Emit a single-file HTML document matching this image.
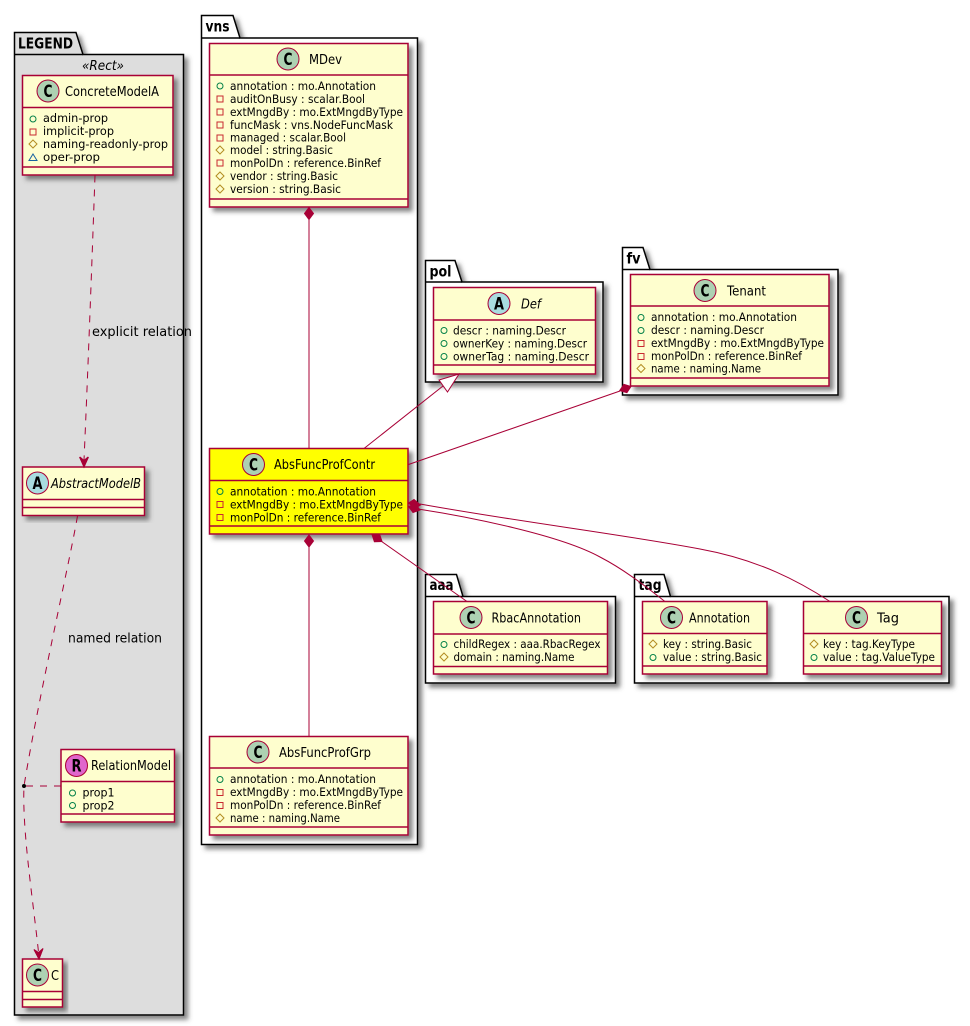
<!DOCTYPE html>
<html>
<head>
<meta charset="utf-8">
<title>Class diagram</title>
<style>
html,body{margin:0;padding:0;background:#fff;}
svg{display:block;}
text{font-family:"DejaVu Sans","Liberation Sans",sans-serif;fill:#000;}
.pk{stroke:#000;stroke-width:1.5;fill:#fff;}
.pt{font-weight:bold;font-size:15px;}
.c{fill:#FEFECE;stroke:#A80036;stroke-width:1.5;}
.s{stroke:#A80036;stroke-width:1.5;fill:none;}
.n{font-size:13.5px;}
.i{font-style:italic;}
.a{font-size:11.5px;}
.l{stroke:#A80036;stroke-width:1;fill:none;}
.d{stroke-dasharray:7,7;}
.b{fill:#A80036;stroke:#A80036;stroke-width:1;}
.cc{fill:#ADD1B2;stroke:#A80036;stroke-width:1;}
.ca{fill:#A9DCDF;stroke:#A80036;stroke-width:1;}
.cr{fill:#E066CC;stroke:#A80036;stroke-width:1;}
.g{font-weight:bold;font-size:16.5px;text-anchor:middle;}
.rl{font-size:13px;}
</style>
</head>
<body>
<svg xmlns="http://www.w3.org/2000/svg" width="970" height="1026" viewBox="0 0 970 1026">
<defs>
<filter id="sh" x="-10%" y="-10%" width="125%" height="125%">
<feDropShadow dx="4" dy="4" stdDeviation="2.5" flood-color="#444" flood-opacity="0.65"/>
</filter>
<circle id="pub" r="3" fill="none" stroke="#038048" stroke-width="1"/>
<rect id="pri" x="-3" y="-3" width="6" height="6" fill="none" stroke="#C82930" stroke-width="1"/>
<polygon id="pro" points="0,-4 4,0 0,4 -4,0" fill="none" stroke="#B38D22" stroke-width="1"/>
<polygon id="tri" points="0,-3.5 4,3 -4,3" fill="none" stroke="#1963A0" stroke-width="1"/>
</defs>

<!-- packages -->
<path class="pk" filter="url(#sh)" style="fill:#DDDDDD" d="M14.5,32.5H76L83,54.5H183.5V1015H14.5Z"/>
<path d="M14.5,54.5H83" stroke="#000" stroke-width="1.5"/>
<text class="pt" x="18" y="48.5" textLength="55" lengthAdjust="spacingAndGlyphs">LEGEND</text>
<text x="82" y="70" font-size="13" font-style="italic" textLength="42" lengthAdjust="spacingAndGlyphs">«Rect»</text>

<path class="pk" filter="url(#sh)" d="M201.5,15.5H233L240,38H417.5V844.5H201.5Z"/>
<path d="M201.5,38H240" stroke="#000" stroke-width="1.5"/>
<text class="pt" x="205.5" y="31.5" textLength="24" lengthAdjust="spacingAndGlyphs">vns</text>

<path class="pk" filter="url(#sh)" d="M425.5,260.5H455L462,282H603V382H425.5Z"/>
<path d="M425.5,282H462" stroke="#000" stroke-width="1.5"/>
<text class="pt" x="429.5" y="276.5" textLength="22" lengthAdjust="spacingAndGlyphs">pol</text>

<path class="pk" filter="url(#sh)" d="M622.5,247.5H643L650,269.5H838V395H622.5Z"/>
<path d="M622.5,269.5H650" stroke="#000" stroke-width="1.5"/>
<text class="pt" x="626.5" y="263.5" textLength="14" lengthAdjust="spacingAndGlyphs">fv</text>

<path class="pk" filter="url(#sh)" d="M425.5,574.5H456.5L463,596.5H615.5V683H425.5Z"/>
<path d="M425.5,596.5H463" stroke="#000" stroke-width="1.5"/>
<text class="pt" x="429.5" y="590" textLength="24" lengthAdjust="spacingAndGlyphs">aaa</text>

<path class="pk" filter="url(#sh)" d="M634.5,574.5H664L670.5,596.5H949V683H634.5Z"/>
<path d="M634.5,596.5H670.5" stroke="#000" stroke-width="1.5"/>
<text class="pt" x="638.5" y="590" textLength="23" lengthAdjust="spacingAndGlyphs">tag</text>

<!-- ConcreteModelA -->
<rect class="c" filter="url(#sh)" x="22.5" y="75.5" width="150.5" height="99.5"/>
<path class="s" d="M22.5,107.5H173M22.5,167H173"/>
<circle class="cc" cx="48" cy="91" r="11"/><text class="g" x="48" y="97" textLength="9" lengthAdjust="spacingAndGlyphs">C</text>
<text class="n" x="65" y="96" textLength="94" lengthAdjust="spacingAndGlyphs">ConcreteModelA</text>
<use href="#pub" x="33" y="119"/><text class="a" x="43" y="122" textLength="65" lengthAdjust="spacingAndGlyphs">admin-prop</text>
<use href="#pri" x="33" y="132"/><text class="a" x="43" y="135" textLength="71" lengthAdjust="spacingAndGlyphs">implicit-prop</text>
<use href="#pro" x="33" y="144"/><text class="a" x="43" y="148" textLength="125" lengthAdjust="spacingAndGlyphs">naming-readonly-prop</text>
<use href="#tri" x="33" y="157.5"/><text class="a" x="43" y="161" textLength="57" lengthAdjust="spacingAndGlyphs">oper-prop</text>

<!-- AbstractModelB -->
<rect class="c" filter="url(#sh)" x="22.5" y="467" width="122" height="48.5"/>
<path class="s" d="M22.5,499.5H144.5M22.5,507.5H144.5"/>
<circle class="ca" cx="37.5" cy="483" r="11"/><text class="g" x="37.5" y="489" textLength="10" lengthAdjust="spacingAndGlyphs">A</text>
<text class="n i" x="51" y="488" textLength="90" lengthAdjust="spacingAndGlyphs">AbstractModelB</text>

<!-- RelationModel -->
<rect class="c" filter="url(#sh)" x="61" y="749.5" width="113.5" height="72.5"/>
<path class="s" d="M61,781.5H174.5M61,814H174.5"/>
<circle class="cr" cx="76.5" cy="765.5" r="11"/><text class="g" x="76.5" y="771.5" textLength="10" lengthAdjust="spacingAndGlyphs">R</text>
<text class="n" x="91" y="770" textLength="80" lengthAdjust="spacingAndGlyphs">RelationModel</text>
<use href="#pub" x="72.5" y="793"/><text class="a" x="82.5" y="796.5" textLength="32" lengthAdjust="spacingAndGlyphs">prop1</text>
<use href="#pub" x="72.5" y="805.5"/><text class="a" x="82.5" y="809.5" textLength="32" lengthAdjust="spacingAndGlyphs">prop2</text>

<!-- C -->
<rect class="c" filter="url(#sh)" x="22.5" y="959" width="40" height="48"/>
<path class="s" d="M22.5,991.5H62.5M22.5,999.5H62.5"/>
<circle class="cc" cx="37.5" cy="975" r="11"/><text class="g" x="37.5" y="981" textLength="9" lengthAdjust="spacingAndGlyphs">C</text>
<text class="n" x="51" y="980" textLength="8" lengthAdjust="spacingAndGlyphs">C</text>

<!-- MDev -->
<rect class="c" filter="url(#sh)" x="209.5" y="43.5" width="198.5" height="163.5"/>
<path class="s" d="M209.5,75H408M209.5,199H408"/>
<circle class="cc" cx="288" cy="59" r="11"/><text class="g" x="288" y="65" textLength="9" lengthAdjust="spacingAndGlyphs">C</text>
<text class="n" x="309" y="64" textLength="33" lengthAdjust="spacingAndGlyphs">MDev</text>
<use href="#pub" x="220" y="86"/><text class="a" x="230" y="90" textLength="146" lengthAdjust="spacingAndGlyphs">annotation : mo.Annotation</text>
<use href="#pri" x="220" y="99"/><text class="a" x="230" y="103" textLength="135" lengthAdjust="spacingAndGlyphs">auditOnBusy : scalar.Bool</text>
<use href="#pri" x="220" y="112"/><text class="a" x="230" y="116" textLength="173" lengthAdjust="spacingAndGlyphs">extMngdBy : mo.ExtMngdByType</text>
<use href="#pri" x="220" y="125"/><text class="a" x="230" y="129" textLength="163" lengthAdjust="spacingAndGlyphs">funcMask : vns.NodeFuncMask</text>
<use href="#pri" x="220" y="138"/><text class="a" x="230" y="141.5" textLength="116" lengthAdjust="spacingAndGlyphs">managed : scalar.Bool</text>
<use href="#pro" x="220" y="150"/><text class="a" x="230" y="154" textLength="103" lengthAdjust="spacingAndGlyphs">model : string.Basic</text>
<use href="#pri" x="220" y="163"/><text class="a" x="230" y="167" textLength="151" lengthAdjust="spacingAndGlyphs">monPolDn : reference.BinRef</text>
<use href="#pro" x="220" y="176"/><text class="a" x="230" y="180" textLength="108" lengthAdjust="spacingAndGlyphs">vendor : string.Basic</text>
<use href="#pro" x="220" y="189"/><text class="a" x="230" y="193" textLength="111" lengthAdjust="spacingAndGlyphs">version : string.Basic</text>

<!-- AbsFuncProfContr -->
<rect filter="url(#sh)" x="209.5" y="448.5" width="198.5" height="85.5" fill="#FFFF00" stroke="#A80036" stroke-width="1.5"/>
<path class="s" d="M209.5,480.5H408M209.5,526H408"/>
<circle class="cc" cx="253.5" cy="464.5" r="11"/><text class="g" x="253.5" y="470.5" textLength="9" lengthAdjust="spacingAndGlyphs">C</text>
<text class="n" x="274" y="469" textLength="101" lengthAdjust="spacingAndGlyphs">AbsFuncProfContr</text>
<use href="#pub" x="220" y="491.5"/><text class="a" x="230" y="495.5" textLength="146" lengthAdjust="spacingAndGlyphs">annotation : mo.Annotation</text>
<use href="#pri" x="220" y="504.5"/><text class="a" x="230" y="508.5" textLength="173" lengthAdjust="spacingAndGlyphs">extMngdBy : mo.ExtMngdByType</text>
<use href="#pri" x="220" y="517.5"/><text class="a" x="230" y="521.5" textLength="151" lengthAdjust="spacingAndGlyphs">monPolDn : reference.BinRef</text>

<!-- AbsFuncProfGrp -->
<rect class="c" filter="url(#sh)" x="209.5" y="736.5" width="198.5" height="98.5"/>
<path class="s" d="M209.5,768H408M209.5,827H408"/>
<circle class="cc" cx="258" cy="752" r="11"/><text class="g" x="258" y="758" textLength="9" lengthAdjust="spacingAndGlyphs">C</text>
<text class="n" x="279" y="757" textLength="92" lengthAdjust="spacingAndGlyphs">AbsFuncProfGrp</text>
<use href="#pub" x="220" y="779.5"/><text class="a" x="230" y="783" textLength="146" lengthAdjust="spacingAndGlyphs">annotation : mo.Annotation</text>
<use href="#pri" x="220" y="792.5"/><text class="a" x="230" y="796" textLength="173" lengthAdjust="spacingAndGlyphs">extMngdBy : mo.ExtMngdByType</text>
<use href="#pri" x="220" y="805.5"/><text class="a" x="230" y="809" textLength="151" lengthAdjust="spacingAndGlyphs">monPolDn : reference.BinRef</text>
<use href="#pro" x="220" y="818"/><text class="a" x="230" y="822" textLength="110" lengthAdjust="spacingAndGlyphs">name : naming.Name</text>

<!-- Def -->
<rect class="c" filter="url(#sh)" x="433.5" y="287.5" width="162" height="86.5"/>
<path class="s" d="M433.5,320H595.5M433.5,365H595.5"/>
<circle class="ca" cx="499" cy="303.5" r="11"/><text class="g" x="499" y="309.5" textLength="10" lengthAdjust="spacingAndGlyphs">A</text>
<text class="n i" x="521" y="308.5" textLength="20" lengthAdjust="spacingAndGlyphs">Def</text>
<use href="#pub" x="444" y="330.5"/><text class="a" x="453" y="334.5" textLength="113" lengthAdjust="spacingAndGlyphs">descr : naming.Descr</text>
<use href="#pub" x="444" y="343.5"/><text class="a" x="453" y="347.5" textLength="134" lengthAdjust="spacingAndGlyphs">ownerKey : naming.Descr</text>
<use href="#pub" x="444" y="356.5"/><text class="a" x="453" y="360.5" textLength="136" lengthAdjust="spacingAndGlyphs">ownerTag : naming.Descr</text>

<!-- Tenant -->
<rect class="c" filter="url(#sh)" x="630.5" y="274.5" width="198.5" height="111.5"/>
<path class="s" d="M630.5,306H829M630.5,378H829"/>
<circle class="cc" cx="705" cy="290.5" r="11"/><text class="g" x="705" y="296.5" textLength="9" lengthAdjust="spacingAndGlyphs">C</text>
<text class="n" x="727" y="295.5" textLength="39" lengthAdjust="spacingAndGlyphs">Tenant</text>
<use href="#pub" x="641" y="317.5"/><text class="a" x="651" y="321" textLength="146" lengthAdjust="spacingAndGlyphs">annotation : mo.Annotation</text>
<use href="#pub" x="641" y="330.5"/><text class="a" x="651" y="334" textLength="113" lengthAdjust="spacingAndGlyphs">descr : naming.Descr</text>
<use href="#pri" x="641" y="343.5"/><text class="a" x="651" y="347" textLength="173" lengthAdjust="spacingAndGlyphs">extMngdBy : mo.ExtMngdByType</text>
<use href="#pri" x="641" y="356.5"/><text class="a" x="651" y="360" textLength="151" lengthAdjust="spacingAndGlyphs">monPolDn : reference.BinRef</text>
<use href="#pro" x="641" y="368.5"/><text class="a" x="651" y="372.5" textLength="110" lengthAdjust="spacingAndGlyphs">name : naming.Name</text>

<!-- RbacAnnotation -->
<rect class="c" filter="url(#sh)" x="433.5" y="601.5" width="174" height="72.5"/>
<path class="s" d="M433.5,634H607.5M433.5,666.5H607.5"/>
<circle class="cc" cx="471" cy="617.5" r="11"/><text class="g" x="471" y="623.5" textLength="9" lengthAdjust="spacingAndGlyphs">C</text>
<text class="n" x="491.5" y="622.5" textLength="89.5" lengthAdjust="spacingAndGlyphs">RbacAnnotation</text>
<use href="#pub" x="444" y="644.5"/><text class="a" x="453.5" y="648" textLength="147" lengthAdjust="spacingAndGlyphs">childRegex : aaa.RbacRegex</text>
<use href="#pro" x="444" y="657"/><text class="a" x="453.5" y="661" textLength="121" lengthAdjust="spacingAndGlyphs">domain : naming.Name</text>

<!-- Annotation -->
<rect class="c" filter="url(#sh)" x="642.5" y="601.5" width="124.5" height="72.5"/>
<path class="s" d="M642.5,633.5H767M642.5,666H767"/>
<circle class="cc" cx="671.5" cy="617.5" r="11"/><text class="g" x="671.5" y="623.5" textLength="9" lengthAdjust="spacingAndGlyphs">C</text>
<text class="n" x="689" y="622.5" textLength="61" lengthAdjust="spacingAndGlyphs">Annotation</text>
<use href="#pro" x="653" y="644"/><text class="a" x="663" y="648" textLength="89" lengthAdjust="spacingAndGlyphs">key : string.Basic</text>
<use href="#pub" x="653" y="657.5"/><text class="a" x="663" y="661" textLength="99" lengthAdjust="spacingAndGlyphs">value : string.Basic</text>

<!-- Tag -->
<rect class="c" filter="url(#sh)" x="803.5" y="601.5" width="138" height="72.5"/>
<path class="s" d="M803.5,633.5H941.5M803.5,666H941.5"/>
<circle class="cc" cx="856.5" cy="617.5" r="11"/><text class="g" x="856.5" y="623.5" textLength="9" lengthAdjust="spacingAndGlyphs">C</text>
<text class="n" x="877" y="622.5" textLength="22" lengthAdjust="spacingAndGlyphs">Tag</text>
<use href="#pro" x="814" y="644"/><text class="a" x="823" y="648" textLength="92" lengthAdjust="spacingAndGlyphs">key : tag.KeyType</text>
<use href="#pub" x="814" y="657.5"/><text class="a" x="823" y="661" textLength="112" lengthAdjust="spacingAndGlyphs">value : tag.ValueType</text>

<!-- legend connectors -->
<path class="l d" d="M95,175.5C92,260 88,370 84,460"/>
<path class="b" d="M84,467L80,457L84,460.5L88,457Z"/>
<path class="l" d="M79.5,457L84,467L88.5,457"/>
<text class="rl" x="92" y="336" textLength="100" lengthAdjust="spacingAndGlyphs">explicit relation</text>
<path class="l d" d="M77.5,516C70,560 38,700 24,786C22,830 33,900 38.5,952"/>
<path class="b" d="M39,959L34,949.5L38.5,952.5L43,948.5Z"/>
<path class="l" d="M34,949.5L39,959L43,948.5"/>
<circle cx="24" cy="786" r="2" fill="#000"/>
<path class="l d" d="M26,786H61"/>
<text class="rl" x="68" y="642.5" textLength="94" lengthAdjust="spacingAndGlyphs">named relation</text>

<!-- main connectors -->
<path class="l" d="M309,219V448.5"/>
<polygon class="b" points="309,207.5 313.5,213.5 309,219.5 304.5,213.5"/>
<path class="l" d="M309,547V736.5"/>
<polygon class="b" points="309,535 313.5,541 309,547 304.5,541"/>
<path class="l" d="M381,541L467,601.5"/>
<polygon class="b" points="372,534.5 379.6,534.3 382,541.5 374.4,541.7"/>
<path class="l" d="M364,448.5L443,386"/>
<polygon points="459,374 439,380 447.5,392" fill="#fff" stroke="#A80036" stroke-width="1"/>
<path class="l" d="M408.5,464.5L620,391"/>
<polygon class="b" points="631,386.5 626.9,392.7 619.7,390.6 623.9,384.3"/>
<path class="l" d="M420,504C520,522 620,534 700,549C760,560 800,582 830,601.5"/>
<polygon class="b" points="408.5,503 414,499.5 420.5,505 415,508.5"/>
<path class="l" d="M418,509C470,517 560,535 600,557C625,570 645,586 665,601.5"/>
<polygon class="b" points="408.5,506.5 415.5,504 420,510 413,512.5"/>
</svg>
</body>
</html>
